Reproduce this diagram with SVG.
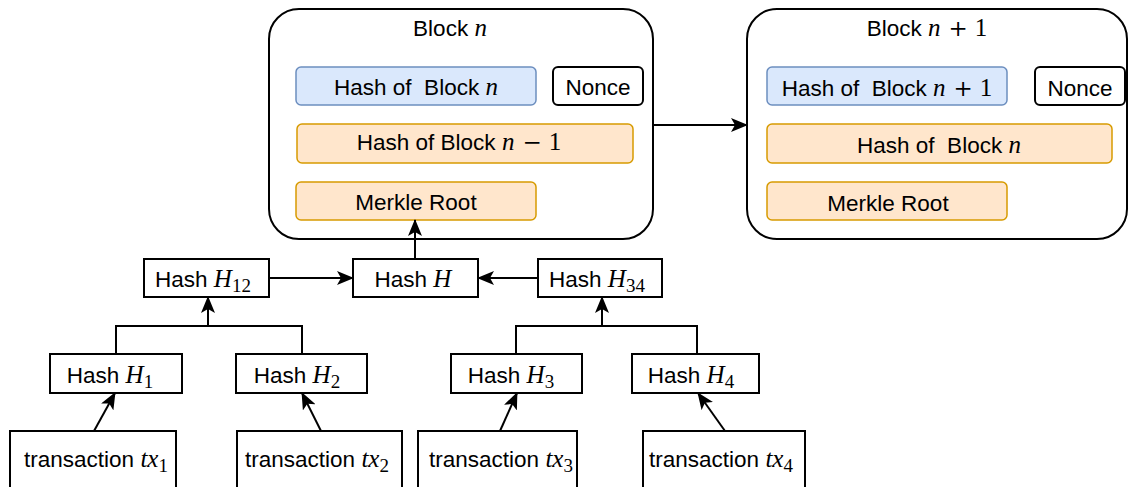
<svg xmlns="http://www.w3.org/2000/svg" width="1128" height="487" viewBox="0 0 1128 487">
  <defs>
    <style>
      text { font-family: "Liberation Sans", Arial, sans-serif; font-size: 22.5px; fill: #000; white-space: pre; }
      .mi { font-family: "Liberation Serif", "Times New Roman", serif; font-style: italic; font-size: 25px; }
      .mr { font-family: "Liberation Serif", "Times New Roman", serif; font-size: 25px; }
      .op { font-family: "DejaVu Serif", "Liberation Serif", serif; font-size: 23px; }
      .sub { font-family: "Liberation Serif", "Times New Roman", serif; font-size: 19px; }
      .block { fill: #fff; stroke: #000; stroke-width: 2; }
      .blue { fill: #dae8fc; stroke: #6c8ebf; stroke-width: 1.5; }
      .orange { fill: #ffe6cc; stroke: #d79b00; stroke-width: 1.5; }
      .plain { fill: #fff; stroke: #000; stroke-width: 2; }
      .edge { fill: none; stroke: #000; stroke-width: 2; }
      .arrow { marker-end: url(#head); }
    </style>
    <marker id="head" markerUnits="userSpaceOnUse" markerWidth="17" markerHeight="14" refX="16" refY="7" orient="auto">
      <path d="M0,0 L17,7 L0,14 L4,7 Z" fill="#000"/>
    </marker>
  </defs>

  <!-- Block n -->
  <g id="block-n">
    <rect class="block" x="269" y="9" width="384" height="230" rx="30"/>
    <text x="450" y="36" text-anchor="middle">Block <tspan class="mi">n</tspan></text>
    <g id="block-n-hash">
      <rect class="blue" x="296" y="67" width="240" height="38" rx="5"/>
      <text x="416" y="95" text-anchor="middle">Hash of  Block <tspan class="mi">n</tspan></text>
    </g>
    <g id="block-n-nonce">
      <rect class="plain" x="553" y="67" width="90" height="38" rx="5"/>
      <text x="598" y="95" text-anchor="middle">Nonce</text>
    </g>
    <g id="block-n-prev">
      <rect class="orange" x="297" y="124" width="336" height="39" rx="5"/>
      <text x="459" y="150" text-anchor="middle">Hash of Block <tspan class="mi">n</tspan><tspan class="op" dx="8">−</tspan><tspan class="mr" dx="7">1</tspan></text>
    </g>
    <g id="block-n-merkle">
      <rect class="orange" x="296" y="182" width="240" height="38" rx="5"/>
      <text x="416" y="210" text-anchor="middle">Merkle Root</text>
    </g>
  </g>

  <!-- Block n+1 -->
  <g id="block-n1">
    <rect class="block" x="747" y="9" width="380" height="230" rx="30"/>
    <text x="927" y="36" text-anchor="middle">Block <tspan class="mi">n</tspan><tspan class="op" dx="8">+</tspan><tspan class="mr" dx="7">1</tspan></text>
    <g id="block-n1-hash">
      <rect class="blue" x="767" y="67" width="240" height="38" rx="5"/>
      <text x="887" y="96" text-anchor="middle">Hash of  Block <tspan class="mi">n</tspan><tspan class="op" dx="8">+</tspan><tspan class="mr" dx="7">1</tspan></text>
    </g>
    <g id="block-n1-nonce">
      <rect class="plain" x="1035" y="67" width="90" height="38" rx="5"/>
      <text x="1080" y="96" text-anchor="middle">Nonce</text>
    </g>
    <g id="block-n1-prev">
      <rect class="orange" x="767" y="124" width="345" height="39" rx="5"/>
      <text x="939" y="153" text-anchor="middle">Hash of  Block <tspan class="mi">n</tspan></text>
    </g>
    <g id="block-n1-merkle">
      <rect class="orange" x="767" y="182" width="240" height="38" rx="5"/>
      <text x="888" y="211" text-anchor="middle">Merkle Root</text>
    </g>
  </g>

  <!-- Merkle tree hashes -->
  <g id="hash-h12">
    <rect class="plain" x="144" y="259" width="125" height="38"/>
    <text x="203" y="287" text-anchor="middle">Hash <tspan class="mi">H</tspan><tspan class="sub" dy="5">12</tspan></text>
  </g>
  <g id="hash-h">
    <rect class="plain" x="353" y="259" width="125" height="38"/>
    <text x="413" y="287" text-anchor="middle">Hash <tspan class="mi">H</tspan></text>
  </g>
  <g id="hash-h34">
    <rect class="plain" x="538" y="259" width="124" height="38"/>
    <text x="597" y="287" text-anchor="middle">Hash <tspan class="mi">H</tspan><tspan class="sub" dy="5">34</tspan></text>
  </g>
  <g id="hash-h1">
    <rect class="plain" x="50" y="354" width="132" height="39"/>
    <text x="110" y="383" text-anchor="middle">Hash <tspan class="mi">H</tspan><tspan class="sub" dy="5">1</tspan></text>
  </g>
  <g id="hash-h2">
    <rect class="plain" x="236" y="354" width="131" height="39"/>
    <text x="297" y="383" text-anchor="middle">Hash <tspan class="mi">H</tspan><tspan class="sub" dy="5">2</tspan></text>
  </g>
  <g id="hash-h3">
    <rect class="plain" x="451" y="354" width="131" height="39"/>
    <text x="511" y="383" text-anchor="middle">Hash <tspan class="mi">H</tspan><tspan class="sub" dy="5">3</tspan></text>
  </g>
  <g id="hash-h4">
    <rect class="plain" x="632" y="354" width="127" height="39"/>
    <text x="691" y="383" text-anchor="middle">Hash <tspan class="mi">H</tspan><tspan class="sub" dy="5">4</tspan></text>
  </g>

  <!-- Transactions -->
  <g id="tx1">
    <rect class="plain" x="10" y="431" width="166" height="70"/>
    <text x="96" y="467" text-anchor="middle">transaction <tspan class="mi">tx</tspan><tspan class="sub" dy="5">1</tspan></text>
  </g>
  <g id="tx2">
    <rect class="plain" x="237" y="431" width="165" height="70"/>
    <text x="317" y="467" text-anchor="middle">transaction <tspan class="mi">tx</tspan><tspan class="sub" dy="5">2</tspan></text>
  </g>
  <g id="tx3">
    <rect class="plain" x="418" y="431" width="159" height="70"/>
    <text x="501" y="467" text-anchor="middle">transaction <tspan class="mi">tx</tspan><tspan class="sub" dy="5">3</tspan></text>
  </g>
  <g id="tx4">
    <rect class="plain" x="643" y="431" width="162" height="70"/>
    <text x="721" y="467" text-anchor="middle">transaction <tspan class="mi">tx</tspan><tspan class="sub" dy="5">4</tspan></text>
  </g>

  <!-- Connectors -->
  <g id="connectors">
    <line class="edge arrow" x1="653" y1="125" x2="747" y2="125"/>
    <line class="edge arrow" x1="415" y1="259" x2="415" y2="220"/>
    <line class="edge arrow" x1="269" y1="278" x2="353" y2="278"/>
    <line class="edge arrow" x1="538" y1="278" x2="478" y2="278"/>
    <polyline class="edge" points="116,354 116,326 302,326 302,354"/>
    <line class="edge arrow" x1="208" y1="326" x2="208" y2="297"/>
    <polyline class="edge" points="516,354 516,326 697,326 697,354"/>
    <line class="edge arrow" x1="602" y1="326" x2="602" y2="297"/>
    <line class="edge arrow" x1="94" y1="431" x2="115" y2="393"/>
    <line class="edge arrow" x1="321" y1="431" x2="302" y2="393"/>
    <line class="edge arrow" x1="500" y1="431" x2="517" y2="393"/>
    <line class="edge arrow" x1="725" y1="431" x2="698" y2="393"/>
  </g>
</svg>
